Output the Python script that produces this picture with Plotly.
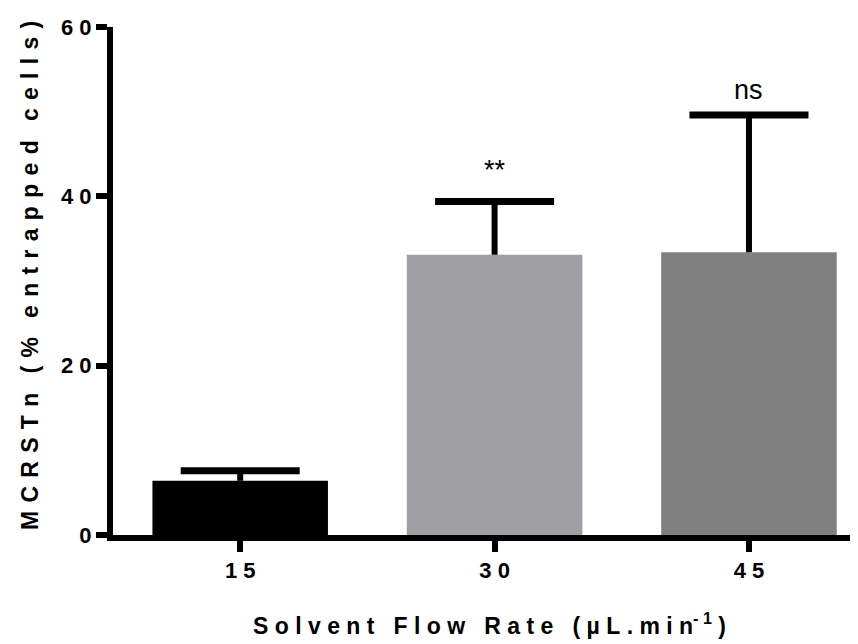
import plotly.graph_objects as go

# ---- data ----
categories = ["15", "30", "45"]
means = [6.4, 33.1, 33.4]
sem = [1.2, 6.3, 16.2]
bar_colors = ["#000000", "#a0a0a4", "#808080"]
significance = ["", "**", "ns"]
sig_y = [0, 43.1, 52.6]
y_ticks = [0, 20, 40, 60]
x_title = "Solvent Flow Rate"
x_unit = "(µL.min"
y_title = "MCRSTn (% entrapped cells)"

NB = "\u00a0"


def spaced(s, gap=NB, word_gap=NB * 3):
    words = s.split(" ")
    return word_gap.join(gap.join(list(w)) for w in words)


FONT = "Liberation Sans, Arial, sans-serif"
x_pos = list(range(len(categories)))
tops = [m + e for m, e in zip(means, sem)]

fig = go.Figure()
fig.add_trace(go.Bar(
    x=x_pos,
    y=means,
    width=0.69,
    marker=dict(color=bar_colors, line=dict(width=0)),
    error_y=dict(type="data", symmetric=False, array=sem,
                 arrayminus=[0] * len(sem), color="black", thickness=6, width=0),
    showlegend=False,
))
# error bar caps (upper only, Prism style)
fig.add_trace(go.Scatter(
    x=x_pos, y=tops, mode="markers",
    marker=dict(symbol="line-ew", size=85, color="black",
                line=dict(width=7, color="black")),
    showlegend=False, hoverinfo="skip",
))

for i, (s, yy) in enumerate(zip(significance, sig_y)):
    if s:
        fig.add_annotation(x=i, y=yy, text=s, showarrow=False,
                           font=dict(family=FONT, size=27, color="black"),
                           xanchor="center", yanchor="middle")

# axis titles as annotations
fig.add_annotation(
    xref="paper", yref="paper", x=0.5, y=-0.176,
    text=spaced(x_title) + NB * 3 + spaced(x_unit)
         + "<sup>" + "-" + NB + "1" + "</sup>" + NB + ")",
    showarrow=False, xanchor="center", yanchor="middle",
    font=dict(family=FONT, size=23, color="black", weight="bold"),
)
fig.add_annotation(
    xref="paper", yref="paper", x=-0.110, y=0.51,
    text=spaced(y_title, gap=NB + "\u200a"), textangle=-90,
    showarrow=False, xanchor="center", yanchor="middle",
    font=dict(family=FONT, size=23, color="black", weight="bold"),
)

fig.update_layout(
    width=858, height=644,
    margin=dict(l=105, r=0, t=19, b=117),
    plot_bgcolor="white", paper_bgcolor="white",
)
fig.update_xaxes(
    range=[-0.5, 2.46], tickmode="array", tickvals=x_pos,
    ticktext=[NB.join(list(c)) for c in categories],
    showline=True, linewidth=6, linecolor="black",
    ticks="outside", ticklen=11, tickwidth=6, tickcolor="black",
    tickfont=dict(family=FONT, size=22, color="black", weight="bold"),
    showgrid=False, zeroline=False,
)
fig.update_yaxes(
    range=[0, 60], tickmode="array", tickvals=y_ticks,
    ticktext=[NB.join(list(str(v))) for v in y_ticks],
    showline=True, linewidth=6, linecolor="black",
    ticks="outside", ticklen=11, tickwidth=6, tickcolor="black",
    tickfont=dict(family=FONT, size=22, color="black", weight="bold"),
    showgrid=False, zeroline=False,
)

fig.write_html("out.html")
